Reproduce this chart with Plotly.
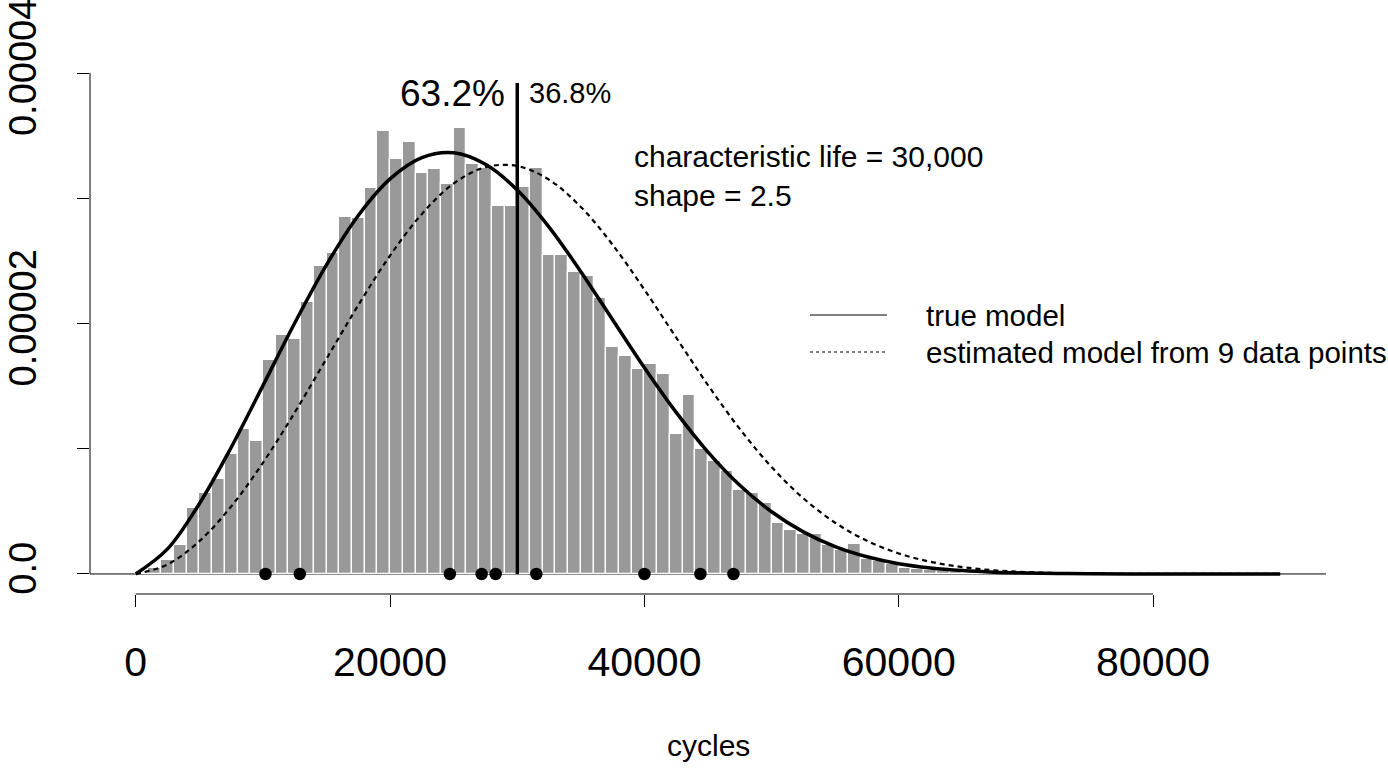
import plotly.graph_objects as go

# ---------------- data ----------------
bin_left = list(range(0, 71000, 1000))          # histogram bins, width 1000 cycles
bar_density_e5 = [                               # density in units of 1e-5
    0.01, 0.05, 0.11, 0.23, 0.53, 0.65, 0.76, 0.96, 1.16, 1.06,
    1.71, 1.91, 1.88, 2.17, 2.46, 2.56, 2.85, 2.84, 3.08, 3.54,
    3.31, 3.45, 3.20, 3.23, 3.11, 3.56, 3.27, 3.24, 2.94, 2.94,
    3.09, 3.24, 2.55, 2.55, 2.41, 2.38, 2.20, 1.81, 1.74, 1.64,
    1.68, 1.60, 1.12, 1.43, 1.00, 0.90, 0.82, 0.67, 0.65, 0.57,
    0.41, 0.35, 0.32, 0.32, 0.23, 0.19, 0.24, 0.12, 0.10, 0.08,
    0.05, 0.04, 0.03, 0.02, 0.015, 0.01, 0.008, 0.005, 0.004, 0.003,
    0.002,
]

curve_x = [0, 2500, 5000, 7500, 10000, 12500, 15000, 17500, 20000, 22500,
           25000, 27500, 30000, 32500, 35000, 37500, 40000, 42500, 45000, 47500,
           50000, 52500, 55000, 57500, 60000, 62500, 65000, 67500, 70000, 72500,
           75000, 80000, 85000, 90000]
true_model_e5 = [0, 0.200, 0.561, 1.010, 1.504, 2.004, 2.469, 2.863, 3.155, 3.325,
                 3.363, 3.271, 3.066, 2.770, 2.414, 2.030, 1.647, 1.290, 0.973, 0.708,
                 0.497, 0.336, 0.218, 0.137, 0.082, 0.048, 0.027, 0.014, 0.007, 0.0035,
                 0.0016, 0.0003, 0.0, 0.0]
est_model_e5 = [0, 0.076, 0.262, 0.539, 0.888, 1.290, 1.719, 2.147, 2.543, 2.875,
                3.118, 3.248, 3.258, 3.148, 2.931, 2.629, 2.270, 1.887, 1.508, 1.158,
                0.854, 0.604, 0.409, 0.265, 0.164, 0.097, 0.055, 0.029, 0.015, 0.007,
                0.003, 0.0005, 0.0001, 0.0]

failures = [10200, 12900, 24700, 27200, 28300, 31500, 40000, 44400, 47000]

char_life = 30000
char_line_top_e5 = 3.92

x_ticks = [0, 20000, 40000, 60000, 80000]
x_tick_labels = ["0", "20000", "40000", "60000", "80000"]
y_ticks_e5 = [0, 1, 2, 3, 4]
y_tick_labels = ["0.0", "", "0.00002", "", "0.00004"]

E5 = 1e-5
FONT = "Liberation Sans, Arial, sans-serif"

fig = go.Figure()

fig.add_trace(go.Bar(
    x=[b + 500 for b in bin_left],
    y=[v * E5 for v in bar_density_e5],
    width=1000,
    marker=dict(color="#999999", line=dict(color="white", width=1.3)),
    hoverinfo="skip",
))

fig.add_trace(go.Scatter(
    x=curve_x, y=[v * E5 for v in est_model_e5], mode="lines",
    line=dict(color="black", width=2.2, dash="5px,4px", shape="spline"),
))
fig.add_trace(go.Scatter(
    x=curve_x, y=[v * E5 for v in true_model_e5], mode="lines",
    line=dict(color="black", width=3.5, shape="spline"),
))
fig.add_trace(go.Scatter(
    x=[char_life, char_life], y=[0, char_line_top_e5 * E5], mode="lines",
    line=dict(color="black", width=3.5),
))
fig.add_trace(go.Scatter(
    x=failures, y=[0] * len(failures), mode="markers",
    marker=dict(color="black", size=12.5), cliponaxis=False,
))

LX0, LX1 = (810 - 90) / 1236, (887 - 90) / 1236
LY1, LY2 = (594 - 315) / 541, (594 - 352) / 541

shapes = [
    # baseline h = 0 across plot region
    dict(type="line", xref="paper", yref="y", x0=0, x1=1, y0=0, y1=0,
         line=dict(color="black", width=1), layer="below"),
    # x axis line (tick range only)
    dict(type="line", xref="x", yref="paper", x0=x_ticks[0], x1=x_ticks[-1], y0=0, y1=0,
         line=dict(color="black", width=1)),
    # y axis line
    dict(type="line", xref="paper", yref="y", x0=0, x1=0, y0=0, y1=y_ticks_e5[-1] * E5,
         line=dict(color="black", width=1)),
    # legend lines
    dict(type="line", xref="paper", yref="paper", x0=LX0, x1=LX1, y0=LY1, y1=LY1,
         line=dict(color="black", width=1)),
    dict(type="line", xref="paper", yref="paper", x0=LX0, x1=LX1, y0=LY2, y1=LY2,
         line=dict(color="black", width=1, dash="3px,3px")),
]

annotations = [
    dict(x=char_life, y=3.84 * E5, xref="x", yref="y", text="63.2%", showarrow=False,
         xanchor="right", yanchor="middle", xshift=-10, font=dict(size=37, color="black")),
    dict(x=char_life, y=3.84 * E5, xref="x", yref="y", text="36.8%", showarrow=False,
         xanchor="left", yanchor="middle", xshift=10, font=dict(size=29, color="black")),
    dict(x=39000, y=3.337 * E5, xref="x", yref="y", text="characteristic life = 30,000",
         showarrow=False, xanchor="left", yanchor="middle", font=dict(size=30, color="black")),
    dict(x=39000, y=3.02 * E5, xref="x", yref="y", text="shape = 2.5",
         showarrow=False, xanchor="left", yanchor="middle", font=dict(size=30, color="black")),
    dict(x=(924 - 90) / 1236, y=LY1, xref="paper", yref="paper", text="true model",
         showarrow=False, xanchor="left", yanchor="middle", font=dict(size=29.5, color="black")),
    dict(x=(924 - 90) / 1236, y=LY2, xref="paper", yref="paper",
         text="estimated model from 9 data points",
         showarrow=False, xanchor="left", yanchor="middle", font=dict(size=29.5, color="black")),
    dict(x=0.5, y=(594 - 745) / 541, xref="paper", yref="paper", text="cycles",
         showarrow=False, xanchor="center", yanchor="middle", font=dict(size=30, color="black")),
]

fig.update_layout(
    width=1388, height=769,
    margin=dict(l=90, r=62, t=53, b=175, autoexpand=False),
    paper_bgcolor="white", plot_bgcolor="white",
    showlegend=False, bargap=0,
    font=dict(family=FONT, color="black"),
    shapes=shapes, annotations=annotations,
    xaxis=dict(range=[-3600, 93600], tickvals=x_ticks, ticktext=x_tick_labels,
               ticks="outside", ticklen=12, tickwidth=1, tickcolor="black",
               showline=False, showgrid=False, zeroline=False, automargin=False,
               tickfont=dict(size=41), ticklabelstandoff=20, ticklabeloverflow="allow"),
    yaxis=dict(range=[-1.6e-6, 4.16e-5], tickvals=[v * E5 for v in y_ticks_e5],
               ticktext=y_tick_labels, tickangle=-90,
               ticks="outside", ticklen=12, tickwidth=1, tickcolor="black",
               showline=False, showgrid=False, zeroline=False, automargin=False,
               tickfont=dict(size=38), ticklabelstandoff=26, ticklabeloverflow="allow"),
)

fig.write_html("out.html")
